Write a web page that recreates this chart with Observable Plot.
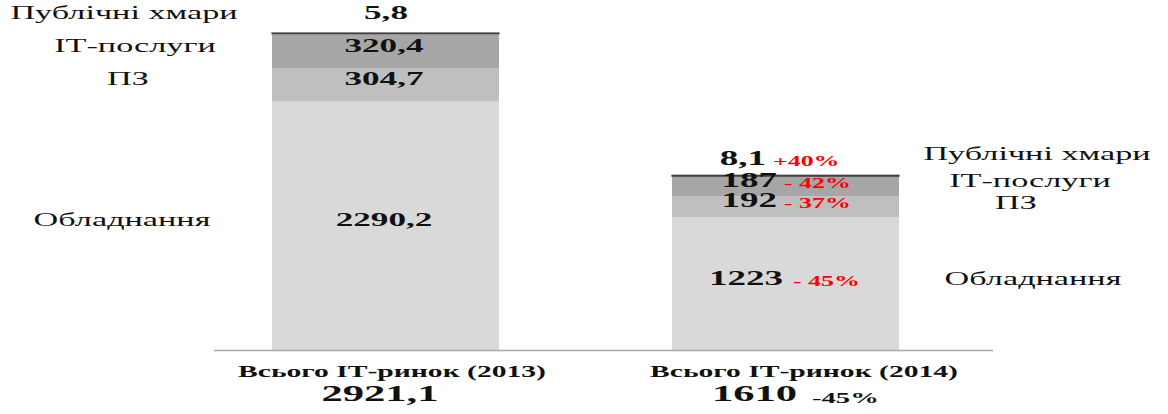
<!DOCTYPE html>
<html><head><meta charset="utf-8">
<script src="https://cdn.jsdelivr.net/npm/d3@7"></script>
<script src="https://cdn.jsdelivr.net/npm/@observablehq/plot@0.6"></script>
<style>
body{margin:0;background:#fff}
#chart svg text{font-family:"Liberation Serif","Times New Roman",serif}
</style>
</head><body><div id="chart"></div>
<script>
// ---- data ----
const years = ["Всього ІТ-ринок (2013)", "Всього ІТ-ринок (2014)"];
const segments = ["Обладнання", "ПЗ", "ІТ-послуги", "Публічні хмари"];
const values2013 = [2290.2, 304.7, 320.4, 5.8];
const values2014 = [1223, 192, 187, 8.1];
const labels2013 = ["2290,2", "304,7", "320,4", "5,8"];
const labels2014 = ["1223", "192", "187", "8,1"];
const changes2014 = ["- 45%", "- 37%", "- 42%", "+40%"];
const totalLabels = ["2921,1", "1610"];
const totalChange = "-45%";
const colors = ["#d9d9d9", "#bfbfbf", "#a6a6a6", "#404040"];

// ---- table ----
function build(yi, values, labels, changes) {
  let acc = 0;
  return segments.map((s, j) => {
    const r = {year: years[yi], segment: s, value: values[j], label: labels[j],
               change: changes ? changes[j] : "", mid: acc + values[j] / 2, idx: j};
    acc += values[j];
    return r;
  });
}
const rows13 = build(0, values2013, labels2013, null);
const rows14 = build(1, values2014, labels2014, changes2014);
const rows = rows13.concat(rows14);

// ---- layout (pixel offsets per segment index) ----
const L13 = { // [valueDx, valueDy, nameDx, nameDy]
  0: [-2, 0, -264, 0], 1: [-2, 0, -258, 0], 2: [-2, 0, -251, 0], 3: [0, -15, -262, -15]
};
const L14 = { // [numEndDx, pctStartDx, dy, nameDx, nameDy]
  0: [-3, 7, 1, 247, 1], 1: [-9, -2, 0, 230, 2], 2: [-9, -2, 0, 244, 0], 3: [-20, -13, -11, 251, -16]
};

const marks = [
  Plot.barY(rows, {x: "year", y: "value", fill: "segment", order: segments,
    stroke: d => d.segment === "Публічні хмари" ? "#404040" : "none", strokeWidth: 1.2}),
  Plot.ruleY([0], {stroke: "#a6a6a6", strokeWidth: 1.5})
];
const valFont = {fontWeight: "bold", fontSize: 20, fill: "#111"};
const nameFont = {fontSize: 18.5, fill: "#111"};
const pctFont = {fontWeight: "bold", fontSize: 14, fill: "#ff0000"};

for (const r of rows13) {
  const [vdx, vdy, ndx, ndy] = L13[r.idx];
  marks.push(Plot.text([r], {x: "year", y: "mid", text: "label", dx: vdx, dy: vdy, ...valFont, fontSize: 19}));
  marks.push(Plot.text([r], {x: "year", y: "mid", text: "segment", dx: ndx, dy: ndy, ...nameFont}));
}
for (const r of rows14) {
  const [edx, pdx, dy, ndx, ndy] = L14[r.idx];
  marks.push(Plot.text([r], {x: "year", y: "mid", text: "label", dx: edx, dy, textAnchor: "end", ...valFont}));
  marks.push(Plot.text([r], {x: "year", y: "mid", text: "change", dx: pdx, dy: dy + 1, textAnchor: "start", ...pctFont}));
  marks.push(Plot.text([r], {x: "year", y: "mid", text: "segment", dx: ndx, dy: ndy, ...nameFont}));
}
// bottom category titles and totals
marks.push(Plot.text([years[0]], {x: d => d, y: () => 0, text: d => d, dy: 26, dx: 6, fontWeight: "bold", fontSize: 16, fill: "#111"}));
marks.push(Plot.text([years[1]], {x: d => d, y: () => 0, text: d => d, dy: 26, dx: 18, fontWeight: "bold", fontSize: 16, fill: "#111"}));
marks.push(Plot.text([years[0]], {x: d => d, y: () => 0, text: () => totalLabels[0], dy: 50, dx: -6, fontWeight: "bold", fontSize: 23, fill: "#111"}));
marks.push(Plot.text([years[1]], {x: d => d, y: () => 0, text: () => totalLabels[1], dy: 50, dx: 11, textAnchor: "end", fontWeight: "bold", fontSize: 23, fill: "#111"}));
marks.push(Plot.text([years[1]], {x: d => d, y: () => 0, text: () => totalChange, dy: 52, dx: 26, textAnchor: "start", fontWeight: "bold", fontSize: 15.5, fill: "#111"}));

const chart = Plot.plot({
  width: 1168, height: 414,
  marginLeft: 214, marginRight: 175, marginTop: 33, marginBottom: 64,
  x: {domain: years, paddingInner: 0.4325, paddingOuter: 0.19, align: 0.38, axis: null},
  y: {domain: [0, 2921.1], axis: null},
  color: {domain: segments, range: colors},
  style: {background: "#fff", overflow: "visible"},
  marks
});
// the reference's lettering is stretched horizontally
const SX = 1.85;
d3.select(chart).selectAll("text").each(function() {
  const x = this.getAttribute("x"), y = this.getAttribute("y");
  let t = this.getAttribute("transform") || "";
  if (x != null || y != null) {
    t = `translate(${+x || 0},${+y || 0}) ` + t;
    this.removeAttribute("x"); this.removeAttribute("y");
  }
  this.setAttribute("transform", t + ` scale(${SX},1)`);
});
document.getElementById("chart").appendChild(chart);
</script>
</body></html>
